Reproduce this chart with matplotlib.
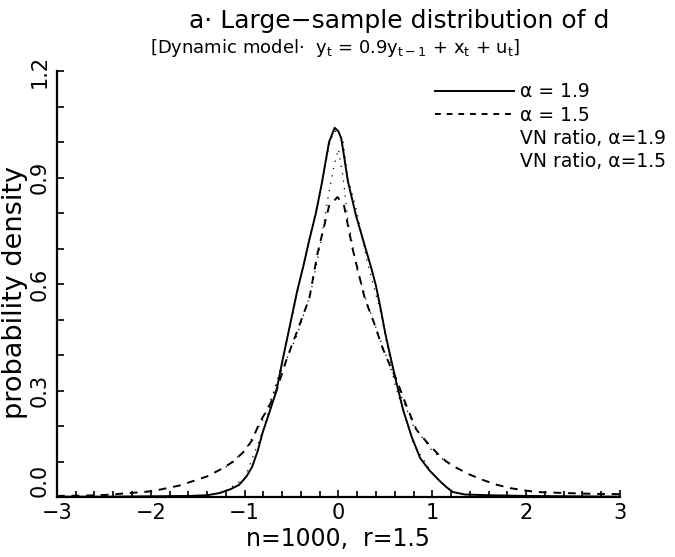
import matplotlib
matplotlib.use("Agg")
import matplotlib.pyplot as plt
from matplotlib.lines import Line2D
from matplotlib.ticker import MultipleLocator

# alpha = 1.9 (solid)
x_s = [-3.0, -2.5, -2.0, -1.6, -1.4, -1.27, -1.15, -1.06, -0.98, -0.92, -0.86,
       -0.81, -0.74, -0.66, -0.60, -0.52, -0.44, -0.37, -0.31, -0.24, -0.18,
       -0.10, -0.04, 0.0, 0.03, 0.06, 0.10, 0.19, 0.30, 0.35, 0.40, 0.45, 0.50,
       0.55, 0.62, 0.69, 0.78, 0.87, 0.97, 1.08, 1.15, 1.22, 1.35, 1.6, 2.0,
       2.5, 3.0]
y_s = [0.001, 0.001, 0.002, 0.003, 0.005, 0.011, 0.022, 0.034, 0.058, 0.085,
       0.13, 0.18, 0.235, 0.30, 0.38, 0.48, 0.58, 0.655, 0.725, 0.80, 0.88,
       1.00, 1.04, 1.03, 1.01, 0.96, 0.89, 0.79, 0.69, 0.645, 0.595, 0.53,
       0.46, 0.40, 0.32, 0.245, 0.17, 0.11, 0.075, 0.045, 0.028, 0.014, 0.007,
       0.005, 0.003, 0.002, 0.001]

# alpha = 1.5 (dashed)
x_d = [-3.0, -2.7, -2.48, -2.23, -2.0, -1.88, -1.7, -1.56, -1.40, -1.24, -1.12,
       -1.00, -0.92, -0.84, -0.75, -0.66, -0.55, -0.45, -0.31, -0.22, -0.10,
       -0.01, 0.06, 0.15, 0.28, 0.38, 0.47, 0.55, 0.62, 0.72, 0.83, 0.94, 1.05,
       1.15, 1.26, 1.40, 1.54, 1.68, 1.83, 2.0, 2.12, 2.44, 2.7, 3.0]
y_d = [0.003, 0.004, 0.006, 0.011, 0.016, 0.022, 0.032, 0.044, 0.058, 0.080,
       0.100, 0.130, 0.16, 0.21, 0.25, 0.30, 0.39, 0.46, 0.56, 0.69, 0.82, 0.845,
       0.82, 0.70, 0.56, 0.49, 0.42, 0.37, 0.33, 0.26, 0.19, 0.155, 0.124, 0.100,
       0.082, 0.063, 0.048, 0.035, 0.025, 0.018, 0.014, 0.011, 0.009, 0.008]

# VN ratio curves (dotted, nearly on top of the above)
x_vn = [-1.2, -1.0, -0.8, -0.6, -0.45, -0.3, -0.2, -0.1, -0.05, 0.0, 0.05, 0.1,
        0.2, 0.3, 0.45, 0.6, 0.8, 1.0, 1.2]
y_vn19 = [0.018, 0.052, 0.19, 0.38, 0.56, 0.74, 0.85, 0.99, 1.03, 1.03, 1.0,
          0.90, 0.80, 0.67, 0.52, 0.32, 0.15, 0.066, 0.016]
y_vn15 = [0.084, 0.13, 0.22, 0.36, 0.45, 0.57, 0.70, 0.86, 0.93, 0.98, 0.90,
          0.78, 0.64, 0.55, 0.44, 0.33, 0.20, 0.13, 0.088]

labels = ["α = 1.9", "α = 1.5", "VN ratio, α=1.9", "VN ratio, α=1.5"]
x_ticks = [-3, -2, -1, 0, 1, 2, 3]
x_ticklabels = ["−3", "−2", "−1", "0", "1", "2", "3"]
y_ticks = [0.0, 0.3, 0.6, 0.9, 1.2]
y_ticklabels = ["0.0", "0.3", "0.6", "0.9", "1.2"]

plt.rcParams["font.family"] = "DejaVu Sans"
plt.rcParams["mathtext.default"] = "regular"

fig = plt.figure(figsize=(6.75, 5.57), dpi=100)
ax = fig.add_axes([0.0844, 0.1077, 0.834, 0.7648])

ax.plot(x_s, y_s, color="black", lw=1.4)
ax.plot(x_d, y_d, color="black", lw=1.4, linestyle=(0, (4, 3.5)))
ax.plot(x_vn, y_vn19, color="black", lw=0.9, linestyle=(0, (1, 5)))
ax.plot(x_vn, y_vn15, color="black", lw=0.9, linestyle=(0, (1, 5)))

ax.set_xlim(-3, 3)
ax.set_ylim(0, 1.2)
for side in ("top", "right"):
    ax.spines[side].set_visible(False)
ax.spines["left"].set_linewidth(1.6)
ax.spines["bottom"].set_linewidth(1.6)

ax.set_xticks(x_ticks)
ax.set_xticklabels(x_ticklabels)
ax.xaxis.set_minor_locator(MultipleLocator(0.2))
ax.set_yticks(y_ticks)
ax.set_yticklabels(y_ticklabels, rotation=90, va="center")
ax.get_yticklabels()[0].set_va("bottom")  # keep "0.0" clear of "-3"
ax.yaxis.set_minor_locator(MultipleLocator(0.1))
ax.tick_params(which="both", direction="in", width=1.2, labelsize=15)
ax.tick_params(axis="x", which="major", length=5, pad=4)
ax.tick_params(axis="x", which="minor", length=4)
ax.tick_params(axis="y", which="both", length=5, pad=5)

ax.set_ylabel("probability density", fontsize=19.5)
ax.yaxis.set_label_coords(-0.052, 0.479)
ax.set_xlabel("n=1000,  r=1.5", fontsize=17, labelpad=3)

fig.text(0.592, 0.962, "a· Large−sample distribution of d", fontsize=18,
         ha="center", va="center")
fig.text(0.222, 0.914,
         r"[Dynamic model·  $y_t$ = 0.9$y_{t-1}$ + $x_t$ + $u_t$]",
         fontsize=13, ha="left", va="center")

handles = [
    Line2D([], [], color="black", lw=1.4),
    Line2D([], [], color="black", lw=1.4, linestyle=(0, (3, 3))),
    Line2D([], [], color="none"),
    Line2D([], [], color="none"),
]
fig.legend(handles, labels, loc="upper left", bbox_to_anchor=(0.645, 0.852),
           frameon=False, fontsize=13.5, handlelength=4.2, handletextpad=0.3,
           labelspacing=0.22, borderpad=0, borderaxespad=0)

fig.savefig("out.png", dpi=100)
